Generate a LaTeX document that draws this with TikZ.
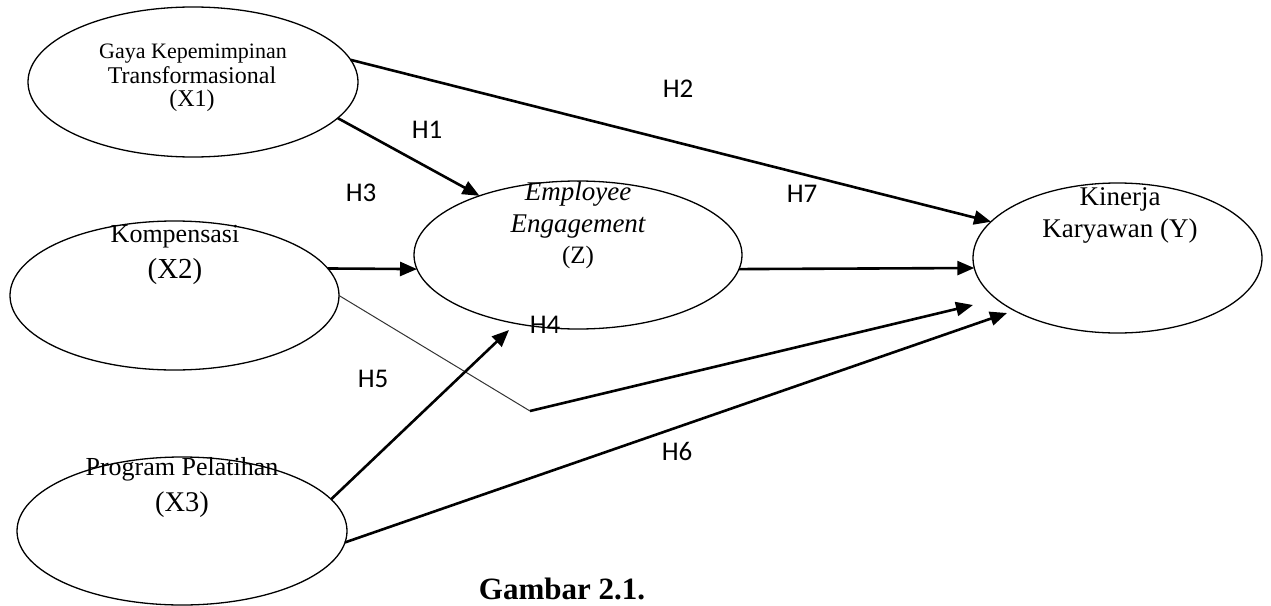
\documentclass[tikz,border=0pt]{standalone}
\usepackage{fontspec}
\setmainfont{Liberation Serif}
\newfontfamily\hfont{Carlito}
\usetikzlibrary{arrows.meta,shapes.geometric}
\tikzset{
  var/.style={draw, ellipse, line width=1.3pt, inner sep=0pt, outer sep=0pt},
  lbl/.style={anchor=base, inner sep=0pt, font=\fontsize{27}{30}\selectfont\hfont},
  txt/.style={anchor=base, inner sep=0pt},
  arr/.style={line width=2.6pt, -{Triangle[length=17pt,width=14pt]}},
  thinline/.style={line width=1pt, draw=black!80}
}
\begin{document}
\begin{tikzpicture}[x=1pt,y=-1pt]
\useasboundingbox (0,0) rectangle (1271,605);
% ellipses
\node[var, minimum width=330pt, minimum height=150pt] (x1) at (193,82) {};
\node[var, minimum width=329pt, minimum height=149pt] (x2) at (174.5,295.5) {};
\node[var, minimum width=330pt, minimum height=148pt] (x3) at (182,531) {};
\node[var, minimum width=328pt, minimum height=148pt] (z) at (578,255) {};
\node[var, minimum width=289pt, minimum height=150pt] (y) at (1117.5,258) {};
% texts
\node[txt, font=\fontsize{22}{24}\selectfont] (x1a) at (193,58) {Gaya Kepemimpinan};
\node[txt, font=\fontsize{24}{26}\selectfont] (x1b) at (192,83) {Transformasional};
\node[txt, font=\fontsize{24}{26}\selectfont] (x1c) at (192,106) {(X1)};
\node[txt, font=\fontsize{26}{28}\selectfont] (x2a) at (175,242) {Kompensasi};
\node[txt, font=\fontsize{29}{31}\selectfont] (x2b) at (175,278) {(X2)};
\node[txt, font=\fontsize{26}{28}\selectfont] (x3a) at (182,475) {Program Pelatihan};
\node[txt, font=\fontsize{28.5}{31}\selectfont] (x3b) at (182,511) {(X3)};
\node[txt, font=\fontsize{27}{30}\selectfont\itshape] (za) at (578,200) {Employee};
\node[txt, font=\fontsize{27}{30}\selectfont\itshape] (zb) at (578,232) {Engagement};
\node[txt, font=\fontsize{25}{28}\selectfont] (zc) at (578,263) {(Z)};
\node[txt, font=\fontsize{27}{30}\selectfont] (ya) at (1120,205) {Kinerja};
\node[txt, font=\fontsize{27}{30}\selectfont] (yb) at (1120,237) {Karyawan (Y)};
\node[txt, font=\fontsize{31}{34}\selectfont\bfseries] (cap) at (562,599) {Gambar 2.1.};
% hypothesis labels
\node[lbl] (h1) at (427,138) {H1};
\node[lbl] (h2) at (678,97) {H2};
\node[lbl] (h3) at (361,201) {H3};
\node[lbl] (h4) at (545,333) {H4};
\node[lbl] (h5) at (373,387) {H5};
\node[lbl] (h6) at (677,460) {H6};
\node[lbl] (h7) at (802,202) {H7};
% free ends
\coordinate (bend) at (530,411);
\coordinate (h4tip) at (973,305);
\coordinate (h5tip) at (509,330);
\coordinate (h6tip) at (1007,313);
% connectors
\draw[arr] (x1.8) -- (y.164);
\draw[arr] (x1.-14) -- (z.149);
\draw[arr] (x2.10) -- (z.185);
\draw[arr] (z.-5) -- (y.184);
\draw[thinline] (x2.east) -- (bend);
\draw[arr] (bend) -- (h4tip);
\draw[arr] (x3.12) -- (h5tip);
\draw[arr] (x3.-4) -- (h6tip);
\end{tikzpicture}
\end{document}
